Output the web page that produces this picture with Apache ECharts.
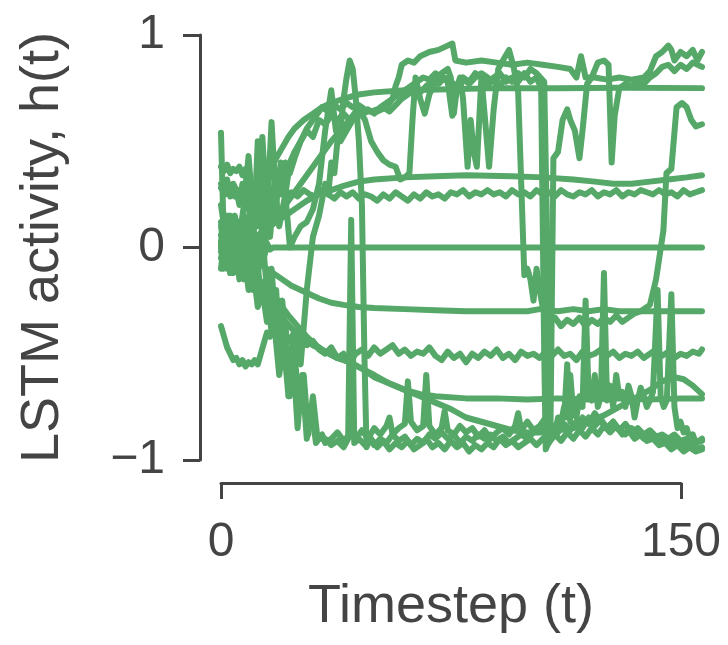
<!DOCTYPE html>
<html>
<head>
<meta charset="utf-8">
<script src="https://cdn.jsdelivr.net/npm/echarts@6/dist/echarts.min.js"></script>
<style>
  html, body { margin: 0; padding: 0; background: #fff; }
  #chart { width: 728px; height: 645px; }
</style>
</head>
<body>
<div id="chart"></div>
<script>
// unit traces as [timestep, h(t)]
var zeroUnit = [[0,0.02],[0.8,-0.1],[1.6,0.08],[2.4,-0.06],[3.2,0.12],[4,-0.12],[4.8,0.05],[5.6,-0.08],[6.4,0.1],[7.2,-0.1],[8,0.06],[8.8,-0.06],[9.6,0.08],[10.4,-0.1],[11.2,0.04],[12,-0.15],[13,0.03],[14,-0.05],[15,0.02],[16,-0.01],[17,0],[157,0]]

var topUnit = [[0,0.38],[1,0.36],[2,0.39],[3,0.35],[4,0.37],[5,0.36],[6,0.38],[7,0.34],[8,0.37],[9,0.2],[10,0.05],[11,0.25],[12,0.35],[13,0.15],[14,-0.05],[15,0.1],[16,0.2],[18,0.12],[20,0.18],[22,0.22],[24,0.26],[26,0.3],[28,0.34],[30,0.38],[33,0.44],[36,0.5],[39,0.55],[42,0.6],[45,0.63],[48,0.64],[51,0.64],[54,0.66],[56,0.7],[57,0.76],[58,0.8],[59,0.86],[61,0.88],[63,0.87],[65,0.9],[68,0.92],[71,0.93],[74,0.95],[75.5,0.96],[76.5,0.88],[80,0.87],[85,0.88],[90,0.87],[95,0.86],[100,0.87],[105,0.86],[110,0.85],[114,0.84],[116,0.8],[117.5,0.9],[119,0.8],[122,0.8],[126,0.79],[130,0.8],[134,0.79],[138,0.8],[140,0.83],[142,0.9],[144,0.92],[146,0.95],[147,0.93],[148,0.88],[150,0.92],[152,0.9],[154,0.93],[155.5,0.88],[157,0.92]]

var flatHigh = [[0,0.3],[1,0.26],[2,0.32],[3,0.24],[4,0.3],[5,0.27],[6,0.2],[7,0.3],[8,0.25],[9,0.28],[10,0.22],[12,0.26],[14,0.3],[16,0.36],[18,0.42],[20,0.47],[22,0.52],[24,0.56],[27,0.6],[30,0.63],[33,0.66],[36,0.68],[40,0.7],[45,0.72],[50,0.73],[60,0.74],[75,0.745],[90,0.75],[110,0.75],[130,0.752],[157,0.75]]

var smoothMid = [[0,0.12],[1,0.04],[2,0.15],[3,0.02],[4,0.1],[5,-0.02],[6,0.12],[7,0.05],[8,0.14],[9,0.0],[10,0.08],[12,0.05],[14,0.09],[16,0.1],[19,0.13],[22,0.16],[25,0.19],[28,0.22],[32,0.25],[36,0.27],[40,0.29],[45,0.31],[50,0.32],[60,0.33],[70,0.335],[80,0.34],[95,0.335],[105,0.33],[115,0.32],[122,0.31],[128,0.3],[134,0.3],[140,0.31],[146,0.32],[152,0.33],[157,0.34]]

var noisyMid = [[0,0.28],[1.5,0.25],[3,0.29],[4.5,0.24],[6,0.27],[7.5,0.22],[9,0.26],[10.5,0.2],[12,0.27],[13.5,0.23],[15,0.26],[17,0.24],[19,0.27],[21,0.25],[23,0.26],[25,0.24],[27,0.27],[29,0.25],[31,0.24],[33,0.27],[35,0.25],[37,0.23],[39,0.26],[41,0.24],[43,0.26],[45,0.23],[47,0.25],[49,0.24],[51,0.22],[53,0.25],[55,0.23],[57,0.26],[59,0.24],[61,0.22],[63,0.25],[65,0.23],[67,0.26],[69,0.24],[71,0.25],[73,0.23],[75,0.26],[77,0.25],[79,0.27],[81,0.24],[83,0.26],[85,0.25],[87,0.27],[89,0.25],[91,0.26],[93,0.24],[95,0.27],[97,0.25],[99,0.26],[101,0.24],[103,0.27],[105,0.25],[107,0.26],[109,0.24],[111,0.27],[113,0.25],[115,0.24],[117,0.26],[119,0.25],[121,0.27],[123,0.24],[125,0.26],[127,0.25],[129,0.27],[131,0.24],[133,0.26],[135,0.25],[137,0.27],[139,0.26],[141,0.25],[143,0.27],[145,0.25],[147,0.26],[149,0.24],[151,0.27],[153,0.25],[155,0.26],[157,0.27]]

var smoothLow = [[0,0.06],[1,-0.05],[2,0.08],[3,-0.03],[4,0.04],[5,-0.06],[6,0.02],[7,-0.04],[8,0.0],[10,-0.04],[12,-0.07],[14,-0.09],[16,-0.11],[18,-0.13],[20,-0.15],[23,-0.18],[26,-0.2],[29,-0.22],[32,-0.24],[36,-0.26],[40,-0.27],[45,-0.28],[50,-0.285],[60,-0.29],[70,-0.295],[80,-0.3],[90,-0.3],[100,-0.3],[104,-0.29],[110,-0.3],[115,-0.29],[120,-0.3],[125,-0.29],[130,-0.3],[140,-0.3],[150,-0.3],[157,-0.3]]

var noisyLow = [[0,-0.37],[1,-0.42],[2,-0.47],[3,-0.5],[4,-0.53],[5,-0.52],[6,-0.55],[7,-0.53],[8,-0.56],[9,-0.54],[10,-0.55],[11,-0.53],[12,-0.55],[13,-0.5],[14,-0.45],[15,-0.4],[16,-0.42],[17,-0.38],[18,-0.42],[19,-0.35],[20,-0.4],[22,-0.44],[24,-0.4],[26,-0.43],[28,-0.46],[30,-0.44],[32,-0.48],[34,-0.5],[36,-0.47],[38,-0.52],[40,-0.5],[42,-0.54],[44,-0.5],[46,-0.48],[48,-0.51],[50,-0.47],[52,-0.5],[54,-0.48],[56,-0.46],[58,-0.5],[60,-0.48],[62,-0.51],[64,-0.49],[66,-0.5],[68,-0.47],[70,-0.51],[72,-0.53],[74,-0.49],[76,-0.52],[78,-0.5],[80,-0.54],[82,-0.5],[84,-0.52],[86,-0.49],[88,-0.51],[90,-0.48],[92,-0.52],[94,-0.5],[96,-0.53],[98,-0.49],[100,-0.51],[102,-0.5],[104,-0.52],[106,-0.49],[108,-0.51],[110,-0.48],[112,-0.51],[114,-0.5],[116,-0.53],[118,-0.49],[120,-0.51],[122,-0.5],[124,-0.48],[126,-0.51],[128,-0.49],[130,-0.52],[132,-0.5],[134,-0.51],[136,-0.49],[138,-0.52],[140,-0.5],[142,-0.48],[144,-0.51],[146,-0.49],[148,-0.52],[150,-0.5],[152,-0.51],[154,-0.49],[156,-0.5],[157,-0.48]]

var settleLow = [[0,-0.02],[1,0.08],[2,-0.1],[3,0.05],[4,-0.08],[5,0.02],[6,-0.12],[7,-0.04],[8,-0.1],[10,-0.12],[12,-0.15],[14,-0.17],[16,-0.2],[18,-0.24],[20,-0.28],[22,-0.32],[25,-0.37],[28,-0.42],[31,-0.46],[34,-0.49],[38,-0.52],[42,-0.54],[46,-0.57],[50,-0.61],[55,-0.64],[60,-0.67],[65,-0.69],[70,-0.7],[80,-0.71],[90,-0.71],[100,-0.715],[110,-0.71],[120,-0.715],[130,-0.71],[140,-0.715],[150,-0.71],[157,-0.71]]

var bowlLow = [[0,0.03],[1,-0.08],[2,0.06],[3,-0.12],[4,0.0],[5,-0.06],[6,0.04],[7,-0.08],[8,-0.05],[10,-0.1],[12,-0.14],[14,-0.19],[16,-0.24],[18,-0.29],[20,-0.33],[23,-0.38],[26,-0.42],[30,-0.46],[34,-0.49],[38,-0.52],[42,-0.54],[46,-0.57],[50,-0.6],[55,-0.64],[60,-0.67],[65,-0.7],[70,-0.73],[75,-0.76],[80,-0.8],[85,-0.82],[90,-0.84],[95,-0.86],[100,-0.87],[105,-0.87],[110,-0.86],[115,-0.85],[120,-0.82],[125,-0.79],[130,-0.75],[135,-0.71],[140,-0.67],[144,-0.63],[148,-0.61],[151,-0.62],[154,-0.65],[157,-0.69]]

var floorA = [[0,0.1],[1.5,-0.05],[3,0.08],[4.5,-0.1],[6,0.02],[7.5,-0.15],[9,-0.05],[10.5,-0.2],[12,-0.1],[13.5,-0.25],[15,-0.2],[16.5,-0.4],[18,-0.2],[19.5,-0.55],[21,-0.35],[22.5,-0.7],[24,-0.5],[25.5,-0.75],[27,-0.6],[28.5,-0.88],[30,-0.7],[31.5,-0.9],[33,-0.88],[34,-0.92],[36,-0.9],[38,-0.87],[40,-0.91],[42,-0.88],[44,-0.9],[46,-0.86],[48,-0.9],[50,-0.85],[52,-0.88],[54,-0.84],[55,-0.8],[56,-0.88],[58,-0.85],[60,-0.83],[61,-0.63],[62,-0.82],[64,-0.86],[66,-0.84],[67,-0.6],[68,-0.84],[70,-0.88],[72,-0.85],[73,-0.77],[74,-0.86],[76,-0.88],[78,-0.84],[80,-0.87],[82,-0.85],[84,-0.89],[86,-0.86],[88,-0.9],[90,-0.87],[92,-0.85],[94,-0.88],[96,-0.84],[97,-0.78],[98,-0.86],[100,-0.82],[102,-0.86],[104,-0.84],[106,-0.8],[108,-0.86],[110,-0.82],[112,-0.8],[113,-0.55],[114,-0.82],[116,-0.84],[118,-0.8],[120,-0.83],[122,-0.78],[124,-0.82],[126,-0.85],[128,-0.82],[130,-0.86],[132,-0.88],[134,-0.85],[136,-0.87],[138,-0.9],[140,-0.88],[142,-0.91],[144,-0.9],[146,-0.93],[148,-0.91],[150,-0.94],[152,-0.92],[154,-0.95],[157,-0.94]]

var floorB = [[0,-0.05],[1.5,0.05],[3,-0.12],[4.5,0.04],[6,-0.15],[7.5,-0.02],[9,-0.2],[10.5,-0.1],[12,-0.28],[13.5,-0.2],[15,-0.35],[17,-0.3],[19,-0.6],[20.5,-0.45],[22,-0.7],[23.5,-0.5],[25,-0.85],[26.5,-0.6],[28,-0.9],[29.5,-0.75],[31,-0.92],[32,-0.9],[34,-0.9],[36,-0.93],[38,-0.91],[40,-0.94],[41.5,-0.9],[42.5,0.13],[43.5,-0.92],[45,-0.9],[47,-0.93],[49,-0.9],[51,-0.94],[53,-0.91],[55,-0.95],[57,-0.92],[59,-0.94],[61,-0.91],[63,-0.95],[65,-0.93],[67,-0.9],[69,-0.94],[71,-0.92],[73,-0.95],[75,-0.91],[77,-0.94],[79,-0.92],[81,-0.96],[83,-0.93],[85,-0.95],[87,-0.92],[89,-0.94],[91,-0.9],[93,-0.93],[95,-0.91],[97,-0.94],[99,-0.92],[101,-0.9],[103,-0.93],[105,-0.9],[107,-0.92],[109,-0.88],[111,-0.91],[113,-0.87],[115,-0.9],[117,-0.86],[119,-0.89],[121,-0.85],[123,-0.88],[125,-0.84],[127,-0.87],[129,-0.84],[131,-0.88],[133,-0.86],[135,-0.9],[137,-0.88],[139,-0.91],[141,-0.9],[143,-0.93],[145,-0.92],[147,-0.95],[149,-0.93],[151,-0.96],[153,-0.94],[155,-0.96],[157,-0.95]]

var spikeUnit = [[0,0.54],[0.8,0.1],[2,0.05],[3,-0.05],[4.5,0.1],[6,-0.1],[7.5,0.05],[9,-0.15],[10.5,0.0],[12,-0.1],[13.5,0.05],[15,-0.2],[16.5,-0.1],[18,-0.4],[20,-0.25],[22,-0.6],[24,-0.4],[26,-0.55],[28,-0.2],[30,0.05],[32,0.15],[34,0.3],[35,0.25],[36,0.4],[37,0.35],[38,0.5],[39,0.55],[40,0.7],[41,0.8],[42,0.88],[43,0.84],[44,0.7],[45,0.5],[46,0.2],[46.8,-0.5],[47.5,-0.94],[48.5,-0.9],[50,-0.93],[52,-0.9],[54,-0.92],[56,-0.88],[58,-0.91],[60,-0.89],[62,-0.93],[64,-0.9],[66,-0.92],[68,-0.88],[70,-0.9],[72,-0.87],[74,-0.9],[76,-0.88],[78,-0.92],[80,-0.89],[82,-0.91],[84,-0.88],[86,-0.9],[88,-0.88],[90,-0.91],[92,-0.89],[94,-0.92],[96,-0.9],[98,-0.88],[100,-0.9],[102,-0.87],[104,-0.85],[106,-0.88],[108,-0.84],[110,-0.87],[112,-0.83],[114,-0.86],[116,-0.82],[118,-0.85],[120,-0.8],[122,-0.84],[124,-0.81],[126,-0.85],[128,-0.82],[130,-0.86],[132,-0.83],[134,-0.87],[136,-0.85],[138,-0.88],[140,-0.86],[142,-0.89],[144,-0.88],[146,-0.9],[148,-0.88],[150,-0.91],[152,-0.9],[154,-0.92],[157,-0.91]]

var switchA = [[0,0.2],[1.5,0.05],[3,0.15],[4.5,0.0],[6,0.12],[7.5,0.02],[9,0.1],[10.5,0.0],[12,0.5],[13,0.1],[14.5,0.2],[16,0.05],[17.5,0.3],[19,0.1],[21,0.25],[22.5,0.0],[24,0.05],[26,0.1],[28,0.12],[30,0.18],[32,0.3],[34,0.55],[36,0.74],[37.5,0.55],[39,0.5],[41,0.55],[43,0.6],[45,0.65],[47,0.6],[49,0.5],[51,0.45],[53,0.41],[55,0.39],[57,0.38],[58.5,0.32],[60,0.33],[61.5,0.35],[62.5,0.6],[63.5,0.8],[65,0.7],[66.5,0.63],[68,0.72],[70,0.78],[72,0.82],[74,0.84],[75,0.8],[76,0.63],[77,0.75],[78,0.8],[79,0.7],[80.5,0.38],[81.5,0.6],[82.5,0.45],[83.5,0.38],[85,0.8],[86.5,0.55],[87.5,0.38],[89,0.65],[90.5,0.84],[92,0.88],[94,0.93],[95.5,0.85],[97,0.73],[98,0.3],[99,-0.13],[100,-0.1],[101,-0.15],[102,-0.25],[103,-0.1],[104,-0.2],[105,-0.28],[106,-0.32],[107,-0.35],[109,-0.33],[111,-0.37],[113,-0.34],[115,-0.36],[117,-0.33],[119,-0.37],[121,-0.34],[123,-0.36],[125,-0.33],[127,-0.35],[129,-0.32],[131,-0.35],[133,-0.33],[135,-0.31],[137,-0.3],[140,-0.27],[142,-0.15],[144.4,0.08],[145.4,0.35],[147,0.37],[148.7,0.66],[150.5,0.68],[152,0.66],[153.5,0.6],[155,0.57],[157,0.58]]

var switchB = [[0,-0.1],[1.5,0.1],[3,0.0],[4.5,0.15],[6,0.05],[7.5,0.2],[9,0.43],[10.5,0.15],[12,0.25],[13.5,0.2],[15,0.3],[16.5,0.2],[18,0.35],[19.5,0.25],[21,0.4],[22.5,0.35],[24,0.42],[26,0.5],[28,0.55],[30,0.52],[32,0.6],[34,0.58],[36,0.62],[38,0.6],[40,0.63],[42,0.6],[44,0.64],[46,0.62],[48,0.65],[50,0.63],[52,0.66],[54,0.68],[56,0.7],[58,0.72],[60,0.74],[62,0.76],[64,0.78],[66,0.8],[68,0.79],[70,0.82],[72,0.8],[74,0.78],[75.5,0.62],[77,0.76],[79,0.8],[81,0.78],[83,0.82],[85,0.8],[87,0.76],[89,0.8],[91,0.82],[93,0.78],[95,0.8],[97,0.78],[99,0.82],[101,0.78],[103,0.8],[104.5,0.75],[105.5,-0.5],[106,-0.95],[107.5,-0.9],[108.5,0.42],[110,0.45],[111.5,0.6],[113,0.65],[114,0.6],[115.5,0.55],[117,0.42],[118,0.55],[119.5,0.77],[121,0.8],[123,0.87],[125,0.88],[126.5,0.86],[127.5,0.4],[128.5,0.62],[130,0.75],[132,0.77],[134,0.76],[136,0.78],[138,0.77],[140,0.8],[142,0.82],[144,0.85],[146,0.86],[148,0.83],[150,0.86],[152,0.84],[154,0.87],[157,0.85]]

var switchC = [[0,0.0],[1.5,0.12],[3,-0.05],[4.5,0.1],[6,0.0],[7.5,0.15],[9,0.05],[10.5,0.2],[12,0.1],[13.5,0.52],[15,0.15],[16.5,0.59],[18,0.2],[19.5,0.4],[21,0.25],[22.5,0.4],[24,0.45],[26,0.5],[28,0.56],[30,0.6],[31,0.62],[33,0.66],[35,0.64],[37,0.67],[39,0.65],[41,0.68],[43,0.66],[45,0.67],[47,0.65],[49,0.64],[51,0.65],[53,0.66],[55,0.64],[57,0.67],[59,0.7],[61,0.72],[63,0.74],[65,0.73],[67,0.76],[69,0.78],[71,0.77],[73,0.8],[75,0.78],[77,0.76],[79,0.79],[81,0.77],[83,0.8],[85,0.82],[87,0.8],[89,0.78],[91,0.76],[93,0.8],[95,0.78],[97,0.82],[99,0.8],[101,0.84],[103,0.82],[105.5,0.78],[106.5,0.0],[107.2,-0.9],[108,-0.85],[109,-0.88],[110,-0.8],[111,-0.82],[112,-0.75],[113,-0.8],[114,-0.6],[115,-0.78],[116,-0.8],[117,-0.7],[118,-0.75],[119,-0.25],[120,-0.7],[121,-0.72],[122,-0.6],[123,-0.75],[124,-0.7],[125,-0.12],[126,-0.72],[127,-0.65],[128,-0.75],[129,-0.6],[130,-0.7],[131,-0.68],[132,-0.75],[133,-0.65],[134,-0.7],[135,-0.8],[136,-0.72],[137,-0.66],[138,-0.7],[139,-0.75],[140,-0.72],[141,-0.68],[142.5,-0.2],[143.5,-0.7],[144.5,-0.75],[145.5,-0.72],[147,-0.22],[148,-0.75],[149,-0.85],[150,-0.82],[151,-0.87],[152,-0.85],[153,-0.9],[154,-0.88],[155,-0.92],[157,-0.9]]

var units = [zeroUnit, topUnit, flatHigh, smoothMid, noisyMid, smoothLow, noisyLow, settleLow, bowlLow, floorA, floorB, spikeUnit, switchA, switchB, switchC]

var xTicks = [0, 150]
var yTicks = [-1, 0, 1]

var ink = '#444444'
var green = '#55a868'
var font = '"Liberation Sans", Arial, Helvetica, sans-serif'

var chart = echarts.init(document.getElementById('chart'))

chart.setOption({
  animation: false,
  backgroundColor: '#ffffff',
  grid: [
    { left: 221, right: 26, top: 35, bottom: 185 },
    { left: 221, width: 460, top: 35, bottom: 185 }
  ],
  xAxis: [
    { type: 'value', gridIndex: 0, min: 0, max: 157, show: false },
    {
      type: 'value', gridIndex: 1, min: xTicks[0], max: xTicks[1], interval: 150,
      offset: 23,
      name: 'Timestep (t)', nameLocation: 'middle', nameGap: 97,
      nameTextStyle: { color: ink, fontSize: 54, fontFamily: font },
      axisLine: { show: true, onZero: false, lineStyle: { color: ink, width: 3 } },
      axisTick: { show: true, length: 16, lineStyle: { color: ink, width: 3 } },
      axisLabel: { color: ink, fontSize: 48, fontFamily: font, margin: 36 },
      splitLine: { show: false }
    }
  ],
  yAxis: [
    {
      type: 'value', gridIndex: 0, min: yTicks[0], max: yTicks[2], interval: 1,
      offset: 21,
      name: 'LSTM activity, h(t)', nameLocation: 'middle', nameGap: 130,
      nameTextStyle: { color: ink, fontSize: 54, fontFamily: font },
      axisLine: { show: true, onZero: false, lineStyle: { color: ink, width: 3 } },
      axisTick: { show: true, length: 17, lineStyle: { color: ink, width: 3 } },
      axisLabel: {
        color: ink, fontSize: 48, fontFamily: font, margin: 35,
        formatter: function (v) { return String(v).replace('-', '\u2212') }
      },
      splitLine: { show: false }
    },
    { type: 'value', gridIndex: 1, min: -1, max: 1, show: false }
  ],
  series: units.map(function (d) {
    return {
      type: 'line',
      xAxisIndex: 0,
      yAxisIndex: 0,
      data: d,
      showSymbol: false,
      silent: true,
      clip: true,
      lineStyle: { color: green, width: 6, join: 'round', cap: 'round' }
    }
  })
})
</script>
</body>
</html>
